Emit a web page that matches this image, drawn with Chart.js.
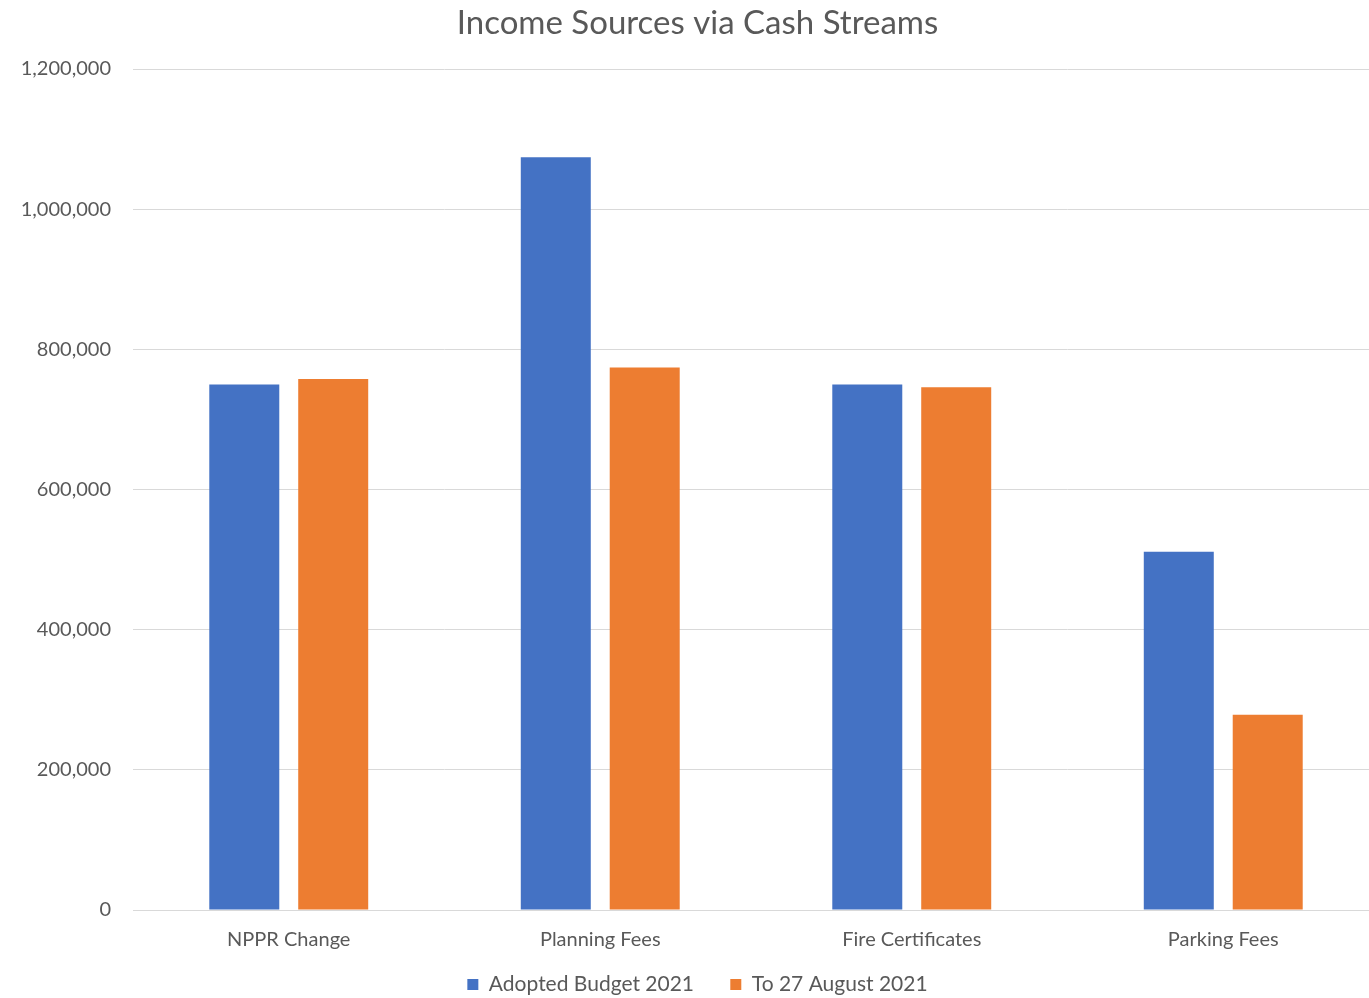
<!DOCTYPE html>
<html>
<head>
<meta charset="utf-8">
<script src="https://cdn.jsdelivr.net/npm/chart.js@4/dist/chart.umd.min.js"></script>
<style>
  html, body { margin: 0; padding: 0; background: #fff; overflow: hidden; }
  #wrap { width: 1379px; height: 1005px; }
</style>
</head>
<body>
<div id="wrap"><canvas id="chart"></canvas></div>
<script>
// Income sources chart data
const categories = ['NPPR Change', 'Planning Fees', 'Fire Certificates', 'Parking Fees'];
const adoptedBudget = [750000, 1074000, 750000, 511000];
const toAugust = [757500, 774000, 746000, 278500];
const yTicks = [0, 200000, 400000, 600000, 800000, 1000000, 1200000];

const TEXT = '#595959';
const FONT = 'Lato, "Open Sans", sans-serif';

const ctx = document.getElementById('chart').getContext('2d');

new Chart(ctx, {
  type: 'bar',
  data: {
    labels: categories,
    datasets: [
      {
        label: 'Adopted Budget 2021',
        data: adoptedBudget,
        backgroundColor: '#4472C4',
        categoryPercentage: 0.571,
        barPercentage: 0.787,
      },
      {
        label: 'To 27 August 2021',
        data: toAugust,
        backgroundColor: '#ED7D31',
        categoryPercentage: 0.571,
        barPercentage: 0.787,
      },
    ],
  },
  options: {
    responsive: true,
    maintainAspectRatio: false,
    animation: false,
    layout: { padding: { left: 16, right: 0, top: 0, bottom: 0 } },
    plugins: {
      title: {
        display: true,
        text: 'Income Sources via Cash Streams',
        color: TEXT,
        font: { family: FONT, size: 33, weight: 'normal' },
        padding: { top: 4, bottom: 25.4 },
      },
      legend: {
        position: 'bottom',
        labels: {
          color: TEXT,
          font: { family: FONT, size: 21 },
          boxWidth: 11,
          boxHeight: 11,
          padding: 4,
          // widen the gap between the two entries
          generateLabels: (chart) => {
            const items = Chart.defaults.plugins.legend.labels.generateLabels(chart);
            items[0].text += '      ';
            return items;
          },
        },
      },
      tooltip: { enabled: false },
    },
    scales: {
      x: {
        grid: { display: false, drawTicks: false },
        border: { display: true, color: '#d9d9d9', width: 1 },
        ticks: { color: TEXT, font: { family: FONT, size: 20 }, padding: 18 },
      },
      y: {
        min: 0,
        max: 1200000,
        afterFit: (s) => { s.width = 117; },
        afterBuildTicks: (s) => { s.ticks = yTicks.map(v => ({ value: v })); },
        grid: { color: '#d9d9d9', drawTicks: false },
        border: { display: false },
        ticks: {
          color: TEXT,
          font: { family: FONT, size: 20 },
          padding: 22,
          callback: (v) => v.toLocaleString('en-US'),
        },
      },
    },
  },
});
</script>
</body>
</html>
